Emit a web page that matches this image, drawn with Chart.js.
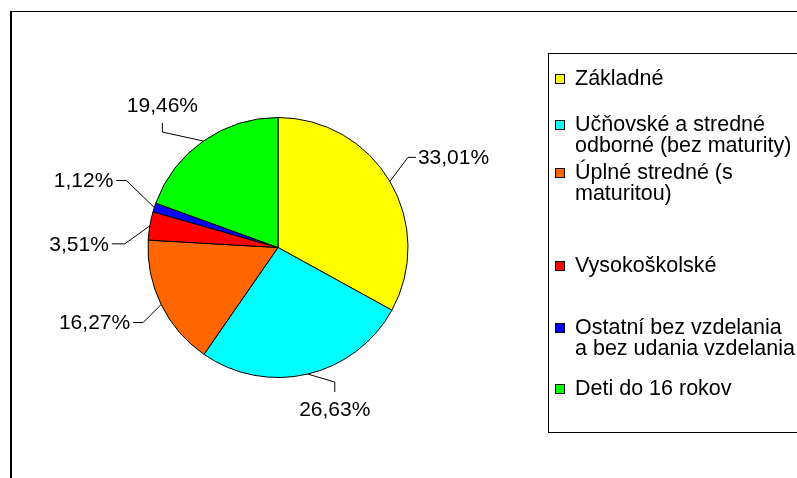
<!DOCTYPE html>
<html>
<head>
<meta charset="utf-8">
<script src="https://cdn.jsdelivr.net/npm/chart.js@4/dist/chart.umd.min.js"></script>
<style>
    body { margin: 0; background: #fff; font-family: 'Liberation Sans', Arial, sans-serif; }
    #wrap { position: relative; width: 797px; height: 478px; overflow: hidden; }
    #frame { position: absolute; left: 10px; top: 11px; width: 900px; height: 600px;
             border-left: 2px solid #000; border-top: 1px solid #000; }
    #chart { position: absolute; left: 0; top: 0; }
    #legend { position: absolute; left: 548px; top: 53px; width: 300px; height: 378px;
              border: 1px solid #000; }
    .item { position: absolute; left: 0; font-size: 21.5px; line-height: 21px; color: #000; white-space: nowrap; }
    .item .box { position: absolute; left: 6px; top: 6px; width: 8px; height: 8px; border: 1px solid #000; }
    .item .txt { position: absolute; left: 26px; top: 0; }
</style>
</head>
<body>
<div id="wrap">
    <div id="frame"></div>
    <canvas id="chart" width="797" height="478"></canvas>
    <div id="legend"></div>
</div>
<script>
// kategórie (riadky legendy)
const categories = [
    ['Základné'],
    ['Učňovské a stredné', 'odborné (bez maturity)'],
    ['Úplné stredné (s', 'maturitou)'],
    ['Vysokoškolské'],
    ['Ostatní bez vzdelania', 'a bez udania vzdelania'],
    ['Deti do 16 rokov']
];
const values = [33.01, 26.63, 16.27, 3.51, 1.12, 19.46];
const colors = ['#FFFF00', '#00FFFF', '#FF6600', '#FF0000', '#0000FF', '#00FF00'];

// legenda - stred prveho riadku kazdej polozky
const legendCenters = [78, 124, 172, 265, 327, 388];

// umiestnenie popiskov: zlom ciary od okraja, koniec ciary, zarovnanie textu
const labelPlacement = [
    { dx: 18, dy: -24, ex: 8, ey: 0, align: 'left' },
    { dx: 27, dy: 8, ex: 0, ey: 10, align: 'below' },
    { dx: -18, dy: 18, ex: -10, ey: 0, align: 'right' },
    { dx: -25, dy: 18, ex: -13, ey: 0, align: 'right' },
    { dx: -28, dy: -27, ex: -10, ey: 0, align: 'right' },
    { dx: -41, dy: -9, ex: 0, ey: -9, align: 'above' }
];

const legendEl = document.getElementById('legend');
categories.forEach((lines, i) => {
    const item = document.createElement('div');
    item.className = 'item';
    item.style.top = (legendCenters[i] - 53 - 11) + 'px';
    item.innerHTML = `<span class="box" style="background:${colors[i]}"></span>` +
        `<span class="txt">${lines.join('<br>')}</span>`;
    legendEl.appendChild(item);
});

const pieLabels = {
    id: 'pieLabels',
    afterDatasetsDraw(chart) {
        const ctx = chart.ctx;
        const meta = chart.getDatasetMeta(0);
        ctx.save();
        ctx.strokeStyle = '#000';
        ctx.lineWidth = 1;
        ctx.fillStyle = '#000';
        ctx.font = "21px 'Liberation Sans', Arial, sans-serif";
        meta.data.forEach((arc, i) => {
            const p = arc.getProps(['x', 'y', 'startAngle', 'endAngle', 'outerRadius'], true);
            const mid = (p.startAngle + p.endAngle) / 2;
            const ax = p.x + Math.cos(mid) * p.outerRadius;
            const ay = p.y + Math.sin(mid) * p.outerRadius;
            const pl = labelPlacement[i];
            const bx = ax + pl.dx, by = ay + pl.dy;
            const cx = bx + pl.ex, cy = by + pl.ey;
            ctx.beginPath();
            ctx.moveTo(ax, ay);
            ctx.lineTo(bx, by);
            ctx.lineTo(cx, cy);
            ctx.stroke();
            const text = values[i].toFixed(2).replace('.', ',') + '%';
            ctx.textBaseline = 'middle';
            if (pl.align === 'left') {
                ctx.textAlign = 'left';
                ctx.fillText(text, cx + 2, cy + 1);
            } else if (pl.align === 'right') {
                ctx.textAlign = 'right';
                ctx.fillText(text, cx - 3, cy + 1);
            } else if (pl.align === 'below') {
                ctx.textAlign = 'center';
                ctx.fillText(text, cx, cy + 18);
            } else {
                ctx.textAlign = 'center';
                ctx.fillText(text, cx, cy - 17);
            }
        });
        ctx.restore();
    }
};

new Chart(document.getElementById('chart'), {
    type: 'pie',
    data: {
        labels: categories,
        datasets: [{
            data: values,
            backgroundColor: colors,
            borderColor: '#000',
            borderWidth: 1
        }]
    },
    options: {
        responsive: false,
        animation: false,
        radius: 130,
        layout: { padding: { left: 148, right: 389, top: 117, bottom: 100 } },
        plugins: {
            legend: { display: false },
            tooltip: { enabled: false }
        }
    },
    plugins: [pieLabels]
});
</script>
</body>
</html>
